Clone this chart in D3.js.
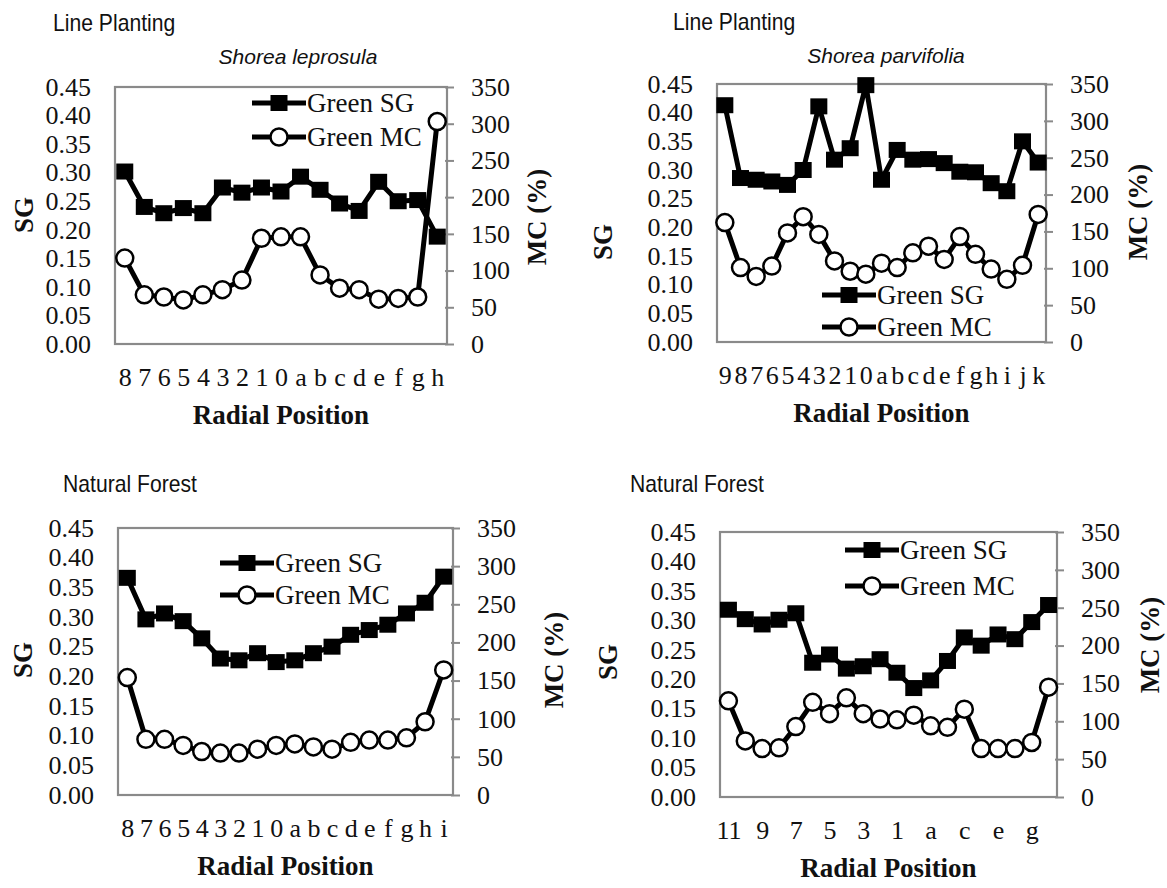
<!DOCTYPE html>
<html>
<head>
<meta charset="utf-8">
<script src="https://cdn.jsdelivr.net/npm/d3@7"></script>
<style>
  html, body { margin: 0; padding: 0; background: #fff; }
  svg { display: block; }
  .tick text, .axis-title, .legend-text { font-family: "Liberation Serif", "Tinos", "Times New Roman", Times, "DejaVu Serif", serif; fill: #111; }
  .tick text { font-size: 26px; }
  .axis-title { font-size: 27px; font-weight: bold; }
  .legend-text { font-size: 27px; }
  .site { font-family: "Liberation Sans", Arial, sans-serif; font-size: 23px; fill: #111; }
  .species { font-family: "Liberation Sans", Arial, sans-serif; font-size: 21px; font-style: italic; fill: #111; }
</style>
</head>
<body>
<script>
// radial positions and values
const posLeprosula = ["8","7","6","5","4","3","2","1","0","a","b","c","d","e","f","g","h"];
const sgLeprosula = [0.302,0.240,0.229,0.238,0.229,0.274,0.265,0.274,0.267,0.293,0.270,0.246,0.233,0.284,0.250,0.252,0.188];
const mcLeprosula = [117,67,64,60,67,74,87,144,146,146,94,76,74,61,62,64,303];

const posParvifolia = ["9","8","7","6","5","4","3","2","1","0","a","b","c","d","e","f","g","h","i","j","k"];
const sgParvifolia = [0.413,0.286,0.283,0.280,0.274,0.300,0.411,0.318,0.338,0.448,0.283,0.335,0.318,0.319,0.312,0.297,0.296,0.277,0.263,0.350,0.313];
const mcParvifolia = [162,101,89,103,148,170,146,110,96,92,107,101,121,130,112,143,119,99,85,104,173];

const posNatural1 = ["8","7","6","5","4","3","2","1","0","a","b","c","d","e","f","g","h","i"];
const sgNatural1 = [0.366,0.296,0.306,0.293,0.264,0.230,0.227,0.239,0.224,0.227,0.239,0.250,0.270,0.278,0.287,0.306,0.324,0.368];
const mcNatural1 = [154,73,73,65,57,55,55,60,65,67,63,60,69,72,72,75,96,164];

const posNatural2 = ["11","10","9","8","7","6","5","4","3","2","1","0","a","b","c","d","e","f","g","h"];
const sgNatural2 = [0.318,0.302,0.293,0.301,0.312,0.228,0.242,0.218,0.222,0.234,0.211,0.185,0.198,0.231,0.271,0.257,0.276,0.268,0.297,0.326];
const mcNatural2 = [127,74,64,65,93,125,110,131,110,103,102,108,94,92,116,64,64,64,72,145];

// tick labels
const sgTicks = [0, 0.05, 0.10, 0.15, 0.20, 0.25, 0.30, 0.35, 0.40, 0.45];
const mcTicks = [0, 50, 100, 150, 200, 250, 300, 350];
const seriesNames = ["Green SG", "Green MC"];

const W = 1167, H = 888;
const svg = d3.select("body").append("svg").attr("width", W).attr("height", H);

// layout per panel (box = left, right, top, bottom in px)
const panels = [
  { site: "Line Planting", species: "Shorea leprosula", pos: posLeprosula, sg: sgLeprosula, mc: mcLeprosula,
    box: [115, 447, 87, 344], siteAt: [53, 31], speciesAt: [298, 64], legendAt: [252, 103, 34],
    sgAt: [24, 215], mcAt: [537, 217], every: 1 },
  { site: "Line Planting", species: "Shorea parvifolia", pos: posParvifolia, sg: sgParvifolia, mc: mcParvifolia,
    box: [717, 1046, 84, 342], siteAt: [673, 30], speciesAt: [886, 63], legendAt: [822, 295, 32],
    sgAt: [603, 242], mcAt: [1138, 212], every: 1 },
  { site: "Natural Forest", species: null, pos: posNatural1, sg: sgNatural1, mc: mcNatural1,
    box: [118, 453, 528, 795], siteAt: [63, 492], speciesAt: null, legendAt: [220, 563, 32],
    sgAt: [23, 660], mcAt: [554, 660], every: 1 },
  { site: "Natural Forest", species: null, pos: posNatural2, sg: sgNatural2, mc: mcNatural2,
    box: [720, 1057, 532, 797], siteAt: [630, 492], speciesAt: null, legendAt: [845, 550, 36],
    sgAt: [608, 662], mcAt: [1150, 645], every: 2 }
];

panels.forEach(drawPanel);

function drawPanel(p) {
  const [L, R, T, B] = p.box;
  const g = svg.append("g");

  const x = d3.scalePoint().domain(p.pos).range([L, R]).padding(0.5);
  const ySG = d3.scaleLinear().domain([0, 0.45]).range([B, T]);
  const yMC = d3.scaleLinear().domain([0, 350]).range([B, T]);

  // plot frame
  g.append("rect")
    .attr("x", L).attr("y", T).attr("width", R - L).attr("height", B - T)
    .attr("fill", "none").attr("stroke", "#8a8a8a").attr("stroke-width", 2.2);

  // left axis (SG)
  const left = g.append("g").attr("transform", `translate(${L},0)`)
    .call(d3.axisLeft(ySG).tickValues(sgTicks).tickFormat(d3.format(".2f")).tickSize(0).tickPadding(24));
  left.select(".domain").remove();

  // right axis (MC)
  const right = g.append("g").attr("transform", `translate(${R},0)`)
    .call(d3.axisRight(yMC).tickValues(mcTicks).tickSize(7).tickPadding(17));
  right.select(".domain").remove();
  right.selectAll(".tick line").attr("stroke", "#8a8a8a").attr("stroke-width", 2).attr("x1", -2);

  // bottom axis (radial position), panel 4 labels every second position
  const bottom = g.append("g").attr("transform", `translate(0,${B})`)
    .call(d3.axisBottom(x).tickSize(0).tickPadding(24)
      .tickValues(p.pos.filter((d, i) => i % p.every === 0)));
  bottom.select(".domain").remove();

  [left, right, bottom].forEach(a => a.attr("font-family", null).attr("font-size", null));

  // series
  const line = (vals, y) => d3.line().x((d, i) => x(p.pos[i])).y(d => y(d))(vals);
  g.append("path").attr("d", line(p.sg, ySG))
    .attr("fill", "none").attr("stroke", "#000").attr("stroke-width", 5).attr("stroke-linejoin", "round");
  g.selectAll(".sq").data(p.sg).enter().append("rect")
    .attr("x", (d, i) => x(p.pos[i]) - 8.5).attr("y", d => ySG(d) - 8)
    .attr("width", 17).attr("height", 16).attr("fill", "#000");

  g.append("path").attr("d", line(p.mc, yMC))
    .attr("fill", "none").attr("stroke", "#000").attr("stroke-width", 5).attr("stroke-linejoin", "round");
  g.selectAll(".ci").data(p.mc).enter().append("circle")
    .attr("cx", (d, i) => x(p.pos[i])).attr("cy", d => yMC(d)).attr("r", 8.5)
    .attr("fill", "#fff").attr("stroke", "#000").attr("stroke-width", 2.5);

  // legend
  const [lx, ly, gap] = p.legendAt;
  seriesNames.forEach((name, i) => {
    const yy = ly + i * gap;
    g.append("line").attr("x1", lx).attr("x2", lx + 54).attr("y1", yy).attr("y2", yy)
      .attr("stroke", "#000").attr("stroke-width", 5);
    if (i === 0) {
      g.append("rect").attr("x", lx + 27 - 8.5).attr("y", yy - 8).attr("width", 17).attr("height", 16).attr("fill", "#000");
    } else {
      g.append("circle").attr("cx", lx + 27).attr("cy", yy).attr("r", 8.5)
        .attr("fill", "#fff").attr("stroke", "#000").attr("stroke-width", 2.5);
    }
    g.append("text").attr("class", "legend-text").attr("x", lx + 55).attr("y", yy).attr("dy", "0.33em").text(name);
  });

  // titles (site label is a narrow sans in the original)
  g.append("text").attr("class", "site")
    .attr("transform", `translate(${p.siteAt[0]},${p.siteAt[1]}) scale(0.92,1)`).text(p.site);
  if (p.species) {
    g.append("text").attr("class", "species").attr("text-anchor", "middle")
      .attr("x", p.speciesAt[0]).attr("y", p.speciesAt[1]).text(p.species);
  }
  g.append("text").attr("class", "axis-title").attr("text-anchor", "middle")
    .attr("x", (L + R) / 2).attr("y", B + 80).text("Radial Position");
  g.append("text").attr("class", "axis-title").attr("text-anchor", "middle").attr("dy", "0.35em")
    .attr("transform", `translate(${p.sgAt[0]},${p.sgAt[1]}) rotate(-90)`).text("SG");
  g.append("text").attr("class", "axis-title").attr("text-anchor", "middle").attr("dy", "0.35em")
    .attr("transform", `translate(${p.mcAt[0]},${p.mcAt[1]}) rotate(-90)`).text("MC (%)");
}
</script>
</body>
</html>
